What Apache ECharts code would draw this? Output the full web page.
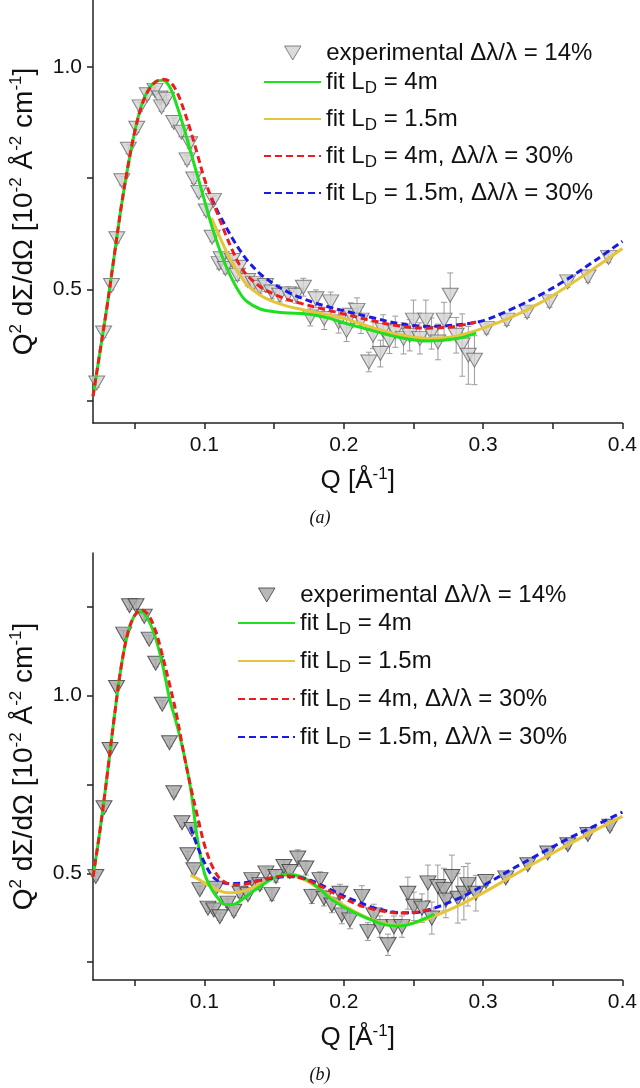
<!DOCTYPE html>
<html>
<head>
<meta charset="utf-8">
<script src="https://cdn.jsdelivr.net/npm/echarts@6/dist/echarts.min.js"></script>
<style>
  html, body { margin: 0; padding: 0; background: #fff; }
  #main { width: 640px; height: 1088px; }
</style>
</head>
<body>
<div id="main"></div>
<script>
// ---- panel (a) ----
const qExpA = [0.0227, 0.0276, 0.0333, 0.0371, 0.0407, 0.0454, 0.0514, 0.0538, 0.059, 0.0645, 0.068, 0.0692, 0.0728, 0.078, 0.0834, 0.0875, 0.0894, 0.0923, 0.096, 0.1013, 0.1055, 0.1065, 0.1105, 0.112, 0.115, 0.12, 0.1236, 0.125, 0.131, 0.135, 0.1396, 0.1438, 0.1484, 0.154, 0.16, 0.1658, 0.171, 0.176, 0.18, 0.186, 0.1906, 0.1963, 0.202, 0.205, 0.2095, 0.2124, 0.218, 0.221, 0.2263, 0.2283, 0.2328, 0.237, 0.2429, 0.2473, 0.25, 0.2546, 0.2589, 0.263, 0.2676, 0.272, 0.2764, 0.2807, 0.285, 0.2894, 0.2938, 0.3025, 0.317, 0.3316, 0.3477, 0.3607, 0.3753, 0.39];
const vExpA = [0.29, 0.402, 0.509, 0.614, 0.744, 0.815, 0.862, 0.91, 0.937, 0.947, 0.93, 0.91, 0.927, 0.875, 0.853, 0.791, 0.827, 0.748, 0.718, 0.676, 0.617, 0.70, 0.558, 0.569, 0.547, 0.565, 0.532, 0.55, 0.52, 0.513, 0.505, 0.509, 0.494, 0.487, 0.49, 0.487, 0.505, 0.438, 0.479, 0.435, 0.472, 0.427, 0.408, 0.442, 0.453, 0.431, 0.337, 0.397, 0.356, 0.408, 0.386, 0.405, 0.39, 0.397, 0.431, 0.39, 0.431, 0.401, 0.382, 0.431, 0.487, 0.397, 0.375, 0.352, 0.341, 0.412, 0.431, 0.449, 0.472, 0.517, 0.528, 0.572];
const errA = [0.01, 0.01, 0.01, 0.01, 0.01, 0.01, 0.01, 0.01, 0.01, 0.01, 0.01, 0.01, 0.01, 0.01, 0.01, 0.01, 0.01, 0.01, 0.01, 0.01, 0.01, 0.01, 0.012, 0.012, 0.012, 0.012, 0.012, 0.012, 0.012, 0.012, 0.014, 0.014, 0.015, 0.015, 0.016, 0.018, 0.02, 0.02, 0.02, 0.025, 0.022, 0.025, 0.025, 0.028, 0.028, 0.03, 0.022, 0.03, 0.03, 0.035, 0.03, 0.035, 0.035, 0.035, 0.045, 0.035, 0.045, 0.035, 0.04, 0.04, 0.05, 0.04, 0.07, 0.065, 0.055, 0.012, 0.012, 0.012, 0.012, 0.012, 0.012, 0.012];

const q4A = [0.02, 0.025, 0.03, 0.035, 0.04, 0.045, 0.05, 0.055, 0.06, 0.065, 0.07, 0.075, 0.08, 0.085, 0.09, 0.095, 0.1, 0.105, 0.11, 0.115, 0.12, 0.125, 0.13, 0.14, 0.15, 0.16, 0.17, 0.18, 0.19, 0.2, 0.22, 0.24, 0.26, 0.28, 0.295];
const green4A = [0.26, 0.36, 0.46, 0.57, 0.68, 0.775, 0.855, 0.915, 0.95, 0.967, 0.97, 0.955, 0.915, 0.865, 0.81, 0.755, 0.70, 0.645, 0.597, 0.556, 0.522, 0.494, 0.474, 0.456, 0.45, 0.447, 0.446, 0.442, 0.435, 0.425, 0.408, 0.392, 0.384, 0.389, 0.402];
const red4A = [0.26, 0.36, 0.46, 0.57, 0.68, 0.775, 0.855, 0.913, 0.948, 0.966, 0.972, 0.967, 0.945, 0.905, 0.857, 0.803, 0.748, 0.705, 0.665, 0.625, 0.588, 0.556, 0.534, 0.506, 0.489, 0.477, 0.468, 0.46, 0.452, 0.445, 0.43, 0.418, 0.413, 0.417, 0.427];
const q15A = [0.105, 0.11, 0.115, 0.12, 0.125, 0.13, 0.14, 0.15, 0.16, 0.17, 0.18, 0.19, 0.2, 0.22, 0.24, 0.26, 0.28, 0.3, 0.32, 0.34, 0.36, 0.38, 0.4];
const yellow15A = [0.66, 0.625, 0.59, 0.56, 0.535, 0.512, 0.487, 0.472, 0.462, 0.455, 0.448, 0.442, 0.435, 0.415, 0.398, 0.39, 0.395, 0.413, 0.437, 0.468, 0.506, 0.548, 0.592];
const blue15A = [0.705, 0.672, 0.643, 0.615, 0.59, 0.568, 0.535, 0.512, 0.494, 0.48, 0.469, 0.46, 0.452, 0.437, 0.423, 0.417, 0.42, 0.43, 0.455, 0.486, 0.522, 0.564, 0.608];

// ---- panel (b) ----
const qExpB = [0.022, 0.0279, 0.0322, 0.0369, 0.042, 0.0462, 0.0509, 0.0568, 0.0603, 0.065, 0.0697, 0.0749, 0.078, 0.0839, 0.0881, 0.091, 0.0924, 0.0967, 0.1025, 0.1067, 0.1083, 0.111, 0.1168, 0.1211, 0.1255, 0.1312, 0.134, 0.1398, 0.1441, 0.1484, 0.1513, 0.157, 0.1613, 0.167, 0.1728, 0.1771, 0.1829, 0.1858, 0.1915, 0.1972, 0.1986, 0.2044, 0.213, 0.2173, 0.2216, 0.2259, 0.2317, 0.236, 0.2418, 0.246, 0.2503, 0.2561, 0.2604, 0.2632, 0.2675, 0.2718, 0.2733, 0.2776, 0.2819, 0.2862, 0.2891, 0.2948, 0.302, 0.3163, 0.3321, 0.3464, 0.3608, 0.3752, 0.391];
const vExpB = [0.491, 0.684, 0.848, 1.022, 1.172, 1.252, 1.252, 1.222, 1.158, 1.09, 0.975, 0.867, 0.726, 0.642, 0.552, 0.623, 0.51, 0.454, 0.402, 0.397, 0.458, 0.378, 0.416, 0.393, 0.444, 0.44, 0.482, 0.468, 0.501, 0.44, 0.491, 0.519, 0.505, 0.543, 0.515, 0.435, 0.482, 0.43, 0.411, 0.444, 0.383, 0.369, 0.435, 0.336, 0.383, 0.35, 0.299, 0.35, 0.35, 0.444, 0.407, 0.402, 0.473, 0.374, 0.463, 0.454, 0.425, 0.491, 0.43, 0.444, 0.468, 0.444, 0.477, 0.487, 0.524, 0.557, 0.58, 0.609, 0.632];
const errB = [0.01, 0.01, 0.01, 0.01, 0.01, 0.01, 0.01, 0.01, 0.01, 0.01, 0.01, 0.01, 0.01, 0.01, 0.01, 0.01, 0.01, 0.01, 0.01, 0.01, 0.01, 0.01, 0.012, 0.012, 0.012, 0.012, 0.014, 0.014, 0.014, 0.016, 0.016, 0.018, 0.018, 0.023, 0.02, 0.02, 0.022, 0.022, 0.022, 0.025, 0.025, 0.025, 0.03, 0.025, 0.03, 0.03, 0.03, 0.03, 0.03, 0.045, 0.04, 0.04, 0.05, 0.045, 0.06, 0.06, 0.05, 0.06, 0.07, 0.075, 0.06, 0.05, 0.012, 0.012, 0.012, 0.012, 0.012, 0.012, 0.012];

const q4B = [0.02, 0.025, 0.03, 0.035, 0.04, 0.045, 0.05, 0.055, 0.06, 0.065, 0.07, 0.075, 0.08, 0.085, 0.09, 0.095, 0.1, 0.105, 0.11, 0.115, 0.12, 0.13, 0.14, 0.15, 0.16, 0.17, 0.18, 0.19, 0.2, 0.21, 0.22, 0.23, 0.24, 0.25, 0.265];
const green4B = [0.49, 0.62, 0.77, 0.93, 1.075, 1.175, 1.225, 1.235, 1.21, 1.16, 1.085, 0.99, 0.92, 0.84, 0.74, 0.595, 0.5, 0.456, 0.428, 0.412, 0.412, 0.435, 0.463, 0.486, 0.497, 0.49, 0.465, 0.43, 0.405, 0.385, 0.368, 0.355, 0.352, 0.36, 0.385];
const red4B = [0.49, 0.62, 0.77, 0.93, 1.075, 1.175, 1.225, 1.24, 1.225, 1.18, 1.11, 1.03, 0.945, 0.84, 0.745, 0.66, 0.58, 0.525, 0.49, 0.474, 0.468, 0.47, 0.48, 0.489, 0.492, 0.486, 0.47, 0.45, 0.43, 0.412, 0.4, 0.392, 0.388, 0.39, 0.4];
const q15B = [0.09, 0.095, 0.1, 0.105, 0.11, 0.115, 0.12, 0.13, 0.14, 0.15, 0.16, 0.17, 0.18, 0.19, 0.2, 0.21, 0.22, 0.23, 0.24, 0.25, 0.26, 0.28, 0.3, 0.32, 0.34, 0.36, 0.38, 0.4];
const yellow15B = [0.495, 0.485, 0.473, 0.462, 0.452, 0.446, 0.445, 0.452, 0.47, 0.487, 0.495, 0.485, 0.462, 0.435, 0.41, 0.388, 0.37, 0.358, 0.354, 0.36, 0.372, 0.405, 0.445, 0.49, 0.535, 0.578, 0.62, 0.66];
const blue15B = [0.63, 0.575, 0.53, 0.495, 0.478, 0.472, 0.471, 0.474, 0.48, 0.487, 0.491, 0.487, 0.474, 0.455, 0.436, 0.42, 0.405, 0.395, 0.389, 0.389, 0.396, 0.425, 0.465, 0.51, 0.553, 0.595, 0.633, 0.672];

// ticks
const xTicks = [0.05, 0.1, 0.15, 0.2, 0.25, 0.3, 0.35, 0.4];
const xLabels = [0.1, 0.2, 0.3, 0.4];
const yTicksA = [0.25, 0.5, 0.75, 1.0];
const yTicksB = [0.25, 0.5, 0.75, 1.0, 1.25];
const yLabels = [0.5, 1.0];

const names = ['experimental Δλ/λ = 14%', 'fit LD = 4m', 'fit LD = 1.5m', 'fit LD = 4m, Δλ/λ = 30%', 'fit LD = 1.5m, Δλ/λ = 30%'];
const colors = { green: '#1ee01e', yellow: '#e6c43c', red: '#ee1c1c', blue: '#1a1ae6' };

const FONT = '"Liberation Sans", Arial, sans-serif';
const TRI = 'path://M0,0 L20,0 L10,17 Z';

const zip = (xs, ys) => xs.map((x, i) => [x, ys[i]]);
const zip3 = (xs, ys, es) => xs.map((x, i) => [x, ys[i], es[i]]);

function errorItem(params, api) {
  const x = api.value(0), y = api.value(1), e = api.value(2);
  const top = api.coord([x, y + e]);
  const bot = api.coord([x, y - e]);
  const style = { stroke: '#9c9c9c', lineWidth: 1 };
  const w = 3;
  return {
    type: 'group',
    children: [
      { type: 'line', shape: { x1: top[0], y1: top[1], x2: bot[0], y2: bot[1] }, style },
      { type: 'line', shape: { x1: top[0] - w, y1: top[1], x2: top[0] + w, y2: top[1] }, style },
      { type: 'line', shape: { x1: bot[0] - w, y1: bot[1], x2: bot[0] + w, y2: bot[1] }, style }
    ]
  };
}

const axisLine = { show: true, lineStyle: { color: '#222', width: 1.5 } };
const supRich = {
  sup: { fontSize: 17, lineHeight: 18, verticalAlign: 'top', fontFamily: FONT, color: '#111' }
};

function xAxis(gridIndex) {
  return {
    type: 'value', gridIndex, min: 0.02, max: 0.4,
    axisLine, splitLine: { show: false },
    axisTick: { show: true, length: 6, customValues: xTicks, lineStyle: { color: '#222', width: 1.5 } },
    axisLabel: { customValues: xLabels, formatter: v => v.toFixed(1), fontSize: 21, fontFamily: FONT, color: '#111', margin: 12 },
    name: 'Q [Å{sup|-1}]', nameLocation: 'middle', nameGap: 43,
    nameTextStyle: { fontSize: 26, fontFamily: FONT, color: '#111', lineHeight: 30, rich: supRich }
  };
}
function yAxis(gridIndex, max, ticks) {
  return {
    type: 'value', gridIndex, min: 0.2, max,
    axisLine, splitLine: { show: false },
    axisTick: { show: true, length: 6, customValues: ticks, lineStyle: { color: '#222', width: 1.5 } },
    axisLabel: { customValues: yLabels, formatter: v => v.toFixed(1), fontSize: 21, fontFamily: FONT, color: '#111', margin: 11 },
    name: 'Q{sup|2} dΣ/dΩ [10{sup|-2} Å{sup|-2} cm{sup|-1}]', nameLocation: 'middle', nameGap: 53, nameRotate: 90,
    nameTextStyle: { fontSize: 28, fontFamily: FONT, color: '#111', lineHeight: 32, rich: supRich }
  };
}

function panelSeries(idx, exp, fill, border, curves) {
  const out = [
    {
      type: 'custom', xAxisIndex: idx, yAxisIndex: idx, renderItem: errorItem,
      data: exp.err, z: 1, silent: true
    },
    {
      type: 'scatter', name: names[0], xAxisIndex: idx, yAxisIndex: idx,
      symbol: TRI, symbolSize: [16, 14],
      itemStyle: { color: fill, borderColor: border, borderWidth: 1 },
      data: exp.pts, z: 2
    }
  ];
  curves.forEach(c => out.push({
    type: 'line', name: c.name, xAxisIndex: idx, yAxisIndex: idx,
    data: c.data, smooth: 0.35, showSymbol: false, symbol: 'none', z: 3,
    lineStyle: { color: c.color, width: 3, type: c.dashed ? [7, 4] : 'solid' },
    itemStyle: { color: c.color }
  }));
  return out;
}

const legendText = {
  fontSize: 24, fontFamily: FONT, color: '#111', lineHeight: 30,
  rich: { sub: { fontSize: 17, lineHeight: 12, verticalAlign: 'bottom', fontFamily: FONT, color: '#111' } }
};
const legendFmt = n => n.replace('LD', 'L{sub|D}');
function legends(left, topExp, topFit, gap, fill, border) {
  return [
    {
      left: left + 21, top: topExp, orient: 'vertical', padding: 0, itemWidth: 57, itemHeight: 14,
      data: [{ name: names[0], icon: TRI, itemStyle: { color: fill, borderColor: border, borderWidth: 1 } }],
      textStyle: legendText, formatter: legendFmt, selectedMode: false
    },
    {
      left, top: topFit, orient: 'vertical', padding: 0, itemWidth: 57, itemHeight: 14, itemGap: gap,
      data: names.slice(1), textStyle: legendText, formatter: legendFmt, selectedMode: false,
      itemStyle: { opacity: 0, borderWidth: 0 }
    }
  ];
}

const chart = echarts.init(document.getElementById('main'));
const option = {
  backgroundColor: '#fff',
  animation: false,
  grid: [
    { left: 89, top: 0, width: 534, height: 423 },
    { left: 83, top: 553, width: 540, height: 427 }
  ],
  xAxis: [xAxis(0), xAxis(1)],
  yAxis: [yAxis(0, 1.15, yTicksA), yAxis(1, 1.4, yTicksB)],
  legend: [
    ...legends(263, 38, 67, 7, '#d2d2d2', '#666'),
    ...legends(237, 580, 608, 8, '#a6a6a6', '#3a3a3a')
  ],
  series: [
    ...panelSeries(0,
      { pts: zip(qExpA, vExpA), err: zip3(qExpA, vExpA, errA) }, '#d2d2d2', '#666', [
        { name: names[2], data: zip(q15A, yellow15A), color: colors.yellow },
        { name: names[1], data: zip(q4A, green4A), color: colors.green },
        { name: names[4], data: zip(q15A, blue15A), color: colors.blue, dashed: true },
        { name: names[3], data: zip(q4A, red4A), color: colors.red, dashed: true }
      ]),
    ...panelSeries(1,
      { pts: zip(qExpB, vExpB), err: zip3(qExpB, vExpB, errB) }, '#a6a6a6', '#3a3a3a', [
        { name: names[2], data: zip(q15B, yellow15B), color: colors.yellow },
        { name: names[1], data: zip(q4B, green4B), color: colors.green },
        { name: names[4], data: zip(q15B, blue15B), color: colors.blue, dashed: true },
        { name: names[3], data: zip(q4B, red4B), color: colors.red, dashed: true }
      ])
  ],
  graphic: [
    { type: 'text', x: 320, y: 518, style: { text: '(a)', font: 'italic 18px "Liberation Serif", serif', fill: '#111', align: 'center', verticalAlign: 'middle', textAlign: 'center', textVerticalAlign: 'middle' } },
    { type: 'text', x: 320, y: 1075, style: { text: '(b)', font: 'italic 18px "Liberation Serif", serif', fill: '#111', align: 'center', verticalAlign: 'middle', textAlign: 'center', textVerticalAlign: 'middle' } }
  ]
};
chart.setOption(option);
</script>
</body>
</html>
